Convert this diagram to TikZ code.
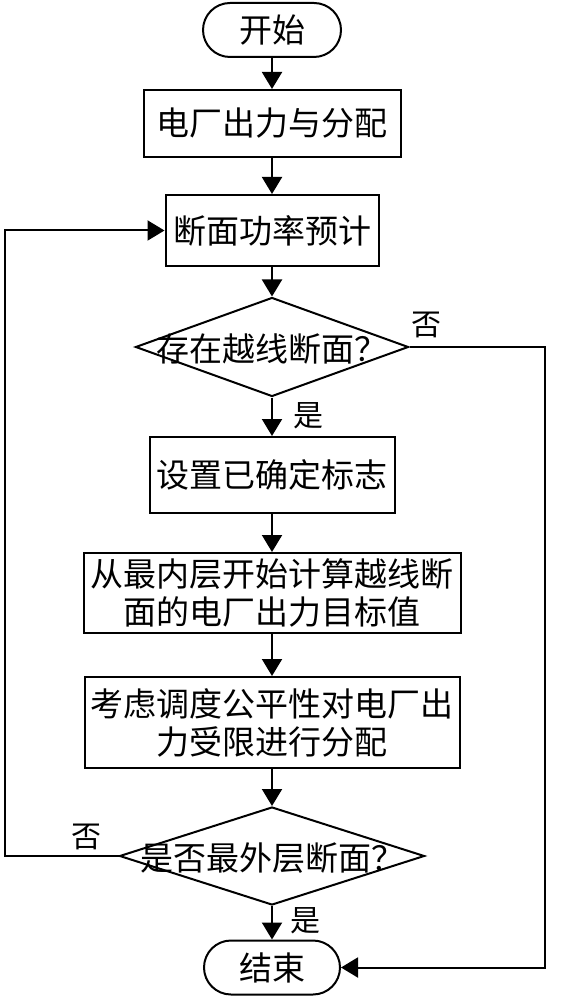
\documentclass[tikz,border=0pt]{standalone}
\usepackage{fontspec}
\setmainfont{Noto Sans CJK SC}
\usetikzlibrary{positioning, shapes.geometric, arrows.meta}

\begin{document}
\begin{tikzpicture}[x=0.5pt, y=-0.5pt, line width=1pt,
    every node/.style={font=\fontsize{16.5}{19}\selectfont, inner sep=0pt},
    term/.style={draw, rounded corners=13.5pt, minimum width=69pt, minimum height=27pt},
    proc/.style={draw, align=center},
    decision/.style={draw, diamond},
    flow/.style={-{Triangle[length=8.5pt, width=10pt]}},
    tag/.style={font=\fontsize{15}{18}\selectfont}]
    \useasboundingbox (0,0) rectangle (562,999);

    \node[term] (start) at (272,30) {开始};
    \node[proc, minimum width=128.5pt, minimum height=33.5pt] (b1) at (272,123.5) {电厂出力与分配};
    \node[proc, minimum width=106.5pt, minimum height=35.5pt] (b2) at (272,230.5) {断面功率预计};
    \node[decision, minimum width=136.5pt, minimum height=49.5pt] (d1) at (272,347) {};
    \node (q1) at (272,349) {存在越线断面？};
    \node[proc, minimum width=122.5pt, minimum height=38pt] (b3) at (272,475) {设置已确定标志};
    \node[proc, minimum width=188.5pt, minimum height=40pt] (b4) at (272,593) {从最内层开始计算越线断\\面的电厂出力目标值};
    \node[proc, minimum width=187.5pt, minimum height=45.5pt] (b5) at (272,722.5) {考虑调度公平性对电厂出\\力受限进行分配};
    \node[decision, minimum width=152.5pt, minimum height=49pt] (d2) at (272,856) {};
    \node (q2) at (272,858) {是否最外层断面？};
    \node[term, minimum width=68pt] (stop) at (272,967.5) {结束};

    \coordinate (rgt) at (545,347);
    \coordinate (lft) at (5,856);

    \draw[flow] (start) -- (b1);
    \draw[flow] (b1) -- (b2);
    \draw[flow] (b2) -- (d1);
    \draw[flow] (d1) -- (b3);
    \draw[flow] (b3) -- (b4);
    \draw[flow] (b4) -- (b5);
    \draw[flow] (b5) -- (d2);
    \draw[flow] (d2) -- (stop);
    \draw[flow] (d1.east) -- (rgt) |- (stop.east);
    \draw[flow] (d2.west) -- (lft) |- (b2.west);

    \node[tag] (no1) at (426,325) {否};
    \node[tag] (yes1) at (308,416) {是};
    \node[tag] (no2) at (86,837) {否};
    \node[tag] (yes2) at (305,921) {是};
\end{tikzpicture}
\end{document}
